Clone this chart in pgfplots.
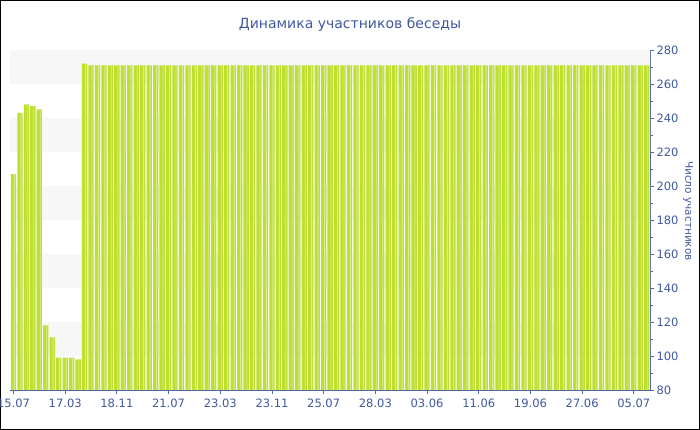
\documentclass[border=0pt]{standalone}
\usepackage{fontspec}
\setmainfont{DejaVu Sans}
\usepackage{pgfplots}
\pgfplotsset{compat=1.18}

\definecolor{bargreen}{HTML}{BDE02E}
\definecolor{barlight}{HTML}{D9EE8E}
\definecolor{band}{HTML}{F7F7F7}
\definecolor{txtblue}{HTML}{4058A0}
\definecolor{axblue}{HTML}{5068A8}

\begin{document}
\begin{tikzpicture}
\path[use as bounding box] (0,0) rectangle (700bp,430bp);
\draw[black, line width=1.2bp] (0.6bp,0.6bp) rectangle (699.4bp,429.4bp);
\node[text=txtblue, font=\fontsize{14bp}{16bp}\selectfont] at (350bp,405bp) {Динамика участников беседы};
\node[text=txtblue, font=\fontsize{10.5bp}{12bp}\selectfont, rotate=-90] at (688bp,219bp) {Число участников};

\begin{axis}[
    at={(10bp,40bp)}, anchor=south west,
    scale only axis,
    width=640bp, height=340bp,
    xmin=-0.54, xmax=98.5,
    ymin=80, ymax=280,
    axis x line*=bottom,
    axis y line*=right,
    axis line style={axblue, line width=0.9bp},
    every tick/.style={axblue, line width=0.8bp},
    tick align=outside,
    major tick length=4bp,
    minor tick length=3bp,
    xtick={0,8,...,96},
    xticklabels={15.07,17.03,18.11,21.07,23.03,23.11,25.07,28.03,03.06,11.06,19.06,27.06,05.07},
    ytick={80,100,...,280},
    minor y tick num=1,
    tick label style={text=txtblue, font=\fontsize{11.5bp}{13bp}\selectfont},
    /pgf/number format/assume math mode=true,
    xticklabel style={yshift=-1bp},
    yticklabel style={xshift=-1bp},
    clip=true,
]
\fill[band] (axis cs:-1,260) rectangle (axis cs:100,280);
\fill[band] (axis cs:-1,220) rectangle (axis cs:100,240);
\fill[band] (axis cs:-1,180) rectangle (axis cs:100,200);
\fill[band] (axis cs:-1,140) rectangle (axis cs:100,160);
\fill[band] (axis cs:-1,100) rectangle (axis cs:100,120);

\addplot[ybar, bar width=0.82, bar shift=0, fill=bargreen, draw=none] coordinates {
(0,207)(1,243)(2,248)(3,247)(4,245)(5,118)(6,111)(7,99)(8,99)(9,99)
(10,98)(11,272)(12,271)(13,271)(14,271)(15,271)(16,271)(17,271)(18,271)(19,271)
(20,271)(21,271)(22,271)(23,271)(24,271)(25,271)(26,271)(27,271)(28,271)(29,271)
(30,271)(31,271)(32,271)(33,271)(34,271)(35,271)(36,271)(37,271)(38,271)(39,271)
(40,271)(41,271)(42,271)(43,271)(44,271)(45,271)(46,271)(47,271)(48,271)(49,271)
(50,271)(51,271)(52,271)(53,271)(54,271)(55,271)(56,271)(57,271)(58,271)(59,271)
(60,271)(61,271)(62,271)(63,271)(64,271)(65,271)(66,271)(67,271)(68,271)(69,271)
(70,271)(71,271)(72,271)(73,271)(74,271)(75,271)(76,271)(77,271)(78,271)(79,271)
(80,271)(81,271)(82,271)(83,271)(84,271)(85,271)(86,271)(87,271)(88,271)(89,271)
(90,271)(91,271)(92,271)(93,271)(94,271)(95,271)(96,271)(97,271)(98,271)
};
\addplot[ybar, bar width=0.13, bar shift=0.14, fill=barlight, draw=none] coordinates {
(0,207)(1,243)(2,248)(3,247)(4,245)(5,118)(6,111)(7,99)(8,99)(9,99)
(10,98)(11,272)(12,271)(13,271)(14,271)(15,271)(16,271)(17,271)(18,271)(19,271)
(20,271)(21,271)(22,271)(23,271)(24,271)(25,271)(26,271)(27,271)(28,271)(29,271)
(30,271)(31,271)(32,271)(33,271)(34,271)(35,271)(36,271)(37,271)(38,271)(39,271)
(40,271)(41,271)(42,271)(43,271)(44,271)(45,271)(46,271)(47,271)(48,271)(49,271)
(50,271)(51,271)(52,271)(53,271)(54,271)(55,271)(56,271)(57,271)(58,271)(59,271)
(60,271)(61,271)(62,271)(63,271)(64,271)(65,271)(66,271)(67,271)(68,271)(69,271)
(70,271)(71,271)(72,271)(73,271)(74,271)(75,271)(76,271)(77,271)(78,271)(79,271)
(80,271)(81,271)(82,271)(83,271)(84,271)(85,271)(86,271)(87,271)(88,271)(89,271)
(90,271)(91,271)(92,271)(93,271)(94,271)(95,271)(96,271)(97,271)(98,271)
};
\end{axis}
\end{tikzpicture}
\end{document}
